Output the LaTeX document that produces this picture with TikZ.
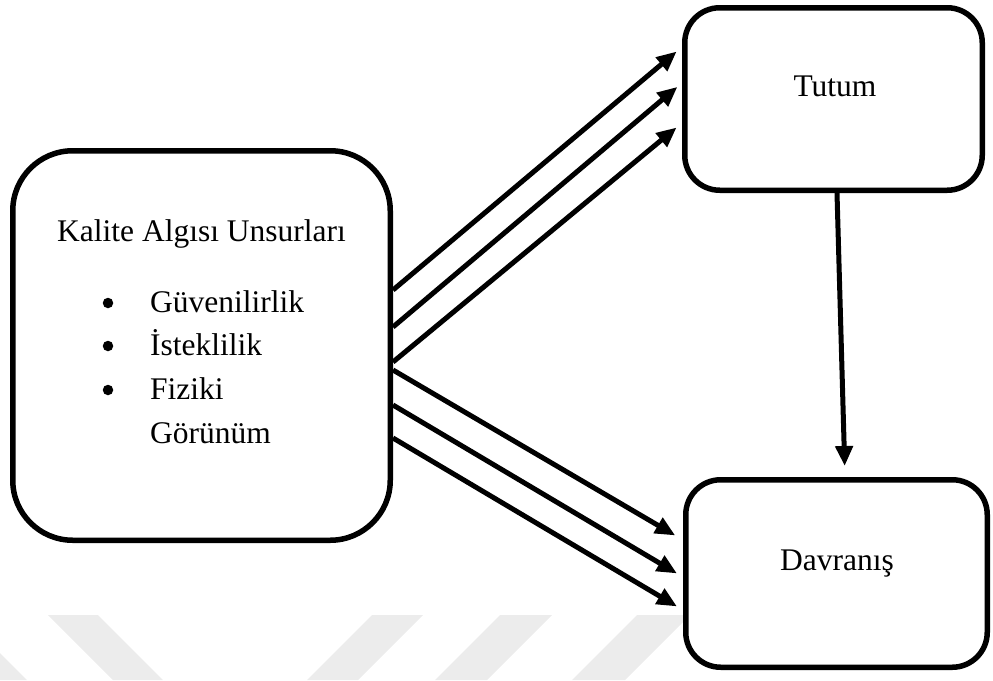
\documentclass[tikz,border=0pt]{standalone}
\usepackage{fontspec}
\setmainfont{Liberation Serif}
\usetikzlibrary{arrows.meta}
\definecolor{wm}{RGB}{236,236,236}
\begin{document}
\begin{tikzpicture}[x=1pt,y=-1pt,
  box/.style={draw, line width=5.5pt, fill=white, inner sep=0pt},
  lbl/.style={anchor=base west, inner sep=0pt, font=\fontsize{31.5}{38}\selectfont},
  clbl/.style={anchor=base, inner sep=0pt, font=\fontsize{31.5}{38}\selectfont},
  dot/.style={circle, fill, inner sep=0pt, minimum size=10.5pt},
  arr/.style={line width=5pt, -{Triangle[length=20pt,width=17pt]}},
  wmark/.style={fill=wm}]
\useasboundingbox (0,0) rectangle (993,680);
% faint watermark band
\begin{scope}
\clip (0,0) rectangle (993,680);
\fill[wmark] (-88,615) -- (-38,615) -- (27,680) -- (-23,680) -- cycle;
\fill[wmark] (48,615) -- (98,615) -- (163,680) -- (113,680) -- cycle;
\fill[wmark] (372,615) -- (423,615) -- (358,680) -- (307,680) -- cycle;
\fill[wmark] (500,615) -- (552,615) -- (487,680) -- (435,680) -- cycle;
\fill[wmark] (637,615) -- (690,615) -- (625,680) -- (572,680) -- cycle;
\end{scope}
% boxes
\node[box, rounded corners=60pt, minimum width=377.5pt, minimum height=389.5pt] (L) at (201.5,345.5) {};
\node[box, rounded corners=35pt, minimum width=297.5pt, minimum height=182.5pt] (T) at (833.5,99) {};
\node[box, rounded corners=35pt, minimum width=301.5pt, minimum height=187.5pt] (D) at (836.5,573.5) {};
% texts
\node[lbl] (k) at (57,241) {Kalite Algısı Unsurları};
\node[dot] (b1) at (108,303) {};
\node[dot] (b2) at (108,346) {};
\node[dot] (b3) at (108,390) {};
\node[lbl] (i1) at (150,312) {Güvenilirlik};
\node[lbl] (i2) at (150,355) {İsteklilik};
\node[lbl] (i3) at (150,399) {Fiziki};
\node[lbl] (i4) at (150,443) {Görünüm};
\node[clbl] (tt) at (835,96) {Tutum};
\node[clbl] (dt) at (837,570) {Davranış};
% arrows to Tutum
\draw[arr, shorten >=7pt] (L.east |- 0,290) -- (T.west |- 0,47);
\draw[arr, shorten >=6pt] (L.east |- 0,327) -- (T.west |- 0,83);
\draw[arr, shorten >=7pt] (L.east |- 0,362) -- (T.west |- 0,123);
% arrows to Davranis
\draw[arr, shorten >=9pt] (L.east |- 0,370) -- (D.west |- 0,540);
\draw[arr, shorten >=7pt] (L.east |- 0,405) -- (D.west |- 0,577);
\draw[arr, shorten >=7pt] (L.east |- 0,438) -- (D.west |- 0,610);
% Tutum to Davranis
\draw[arr, shorten >=11pt] (T.south -| 837,0) -- (D.north -| 845,0);
\end{tikzpicture}
\end{document}
